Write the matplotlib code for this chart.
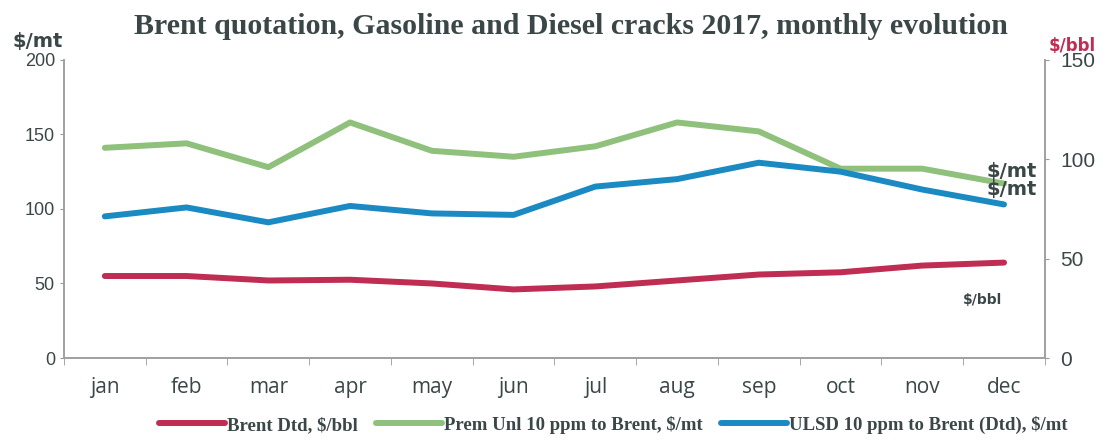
import numpy as np
import matplotlib.pyplot as plt

# Monthly data 2017
months = ['jan', 'feb', 'mar', 'apr', 'may', 'jun', 'jul', 'aug', 'sep', 'oct', 'nov', 'dec']
brent = [55, 55, 52, 52.5, 50, 46, 48, 52, 56, 57.5, 62, 64]
prem_unl = [141, 144, 128, 158, 139, 135, 142, 158, 152, 127, 127, 117]
ulsd = [95, 101, 91, 102, 97, 96, 115, 120, 131, 125, 113, 103]

red = '#bf2d52'
green = '#8fc17c'
blue = '#1c8ac2'
txt = '#3b4747'

fig = plt.figure(figsize=(11.16, 4.45), dpi=100)
ax = fig.add_axes([0.0573, 0.1955, 0.879, 0.67])
x = np.arange(len(months))

ax.plot(x, brent, color=red, lw=4.3, solid_capstyle='round', label='Brent Dtd, $/bbl')
ax.plot(x, prem_unl, color=green, lw=4.3, solid_capstyle='round', label='Prem Unl 10 ppm to Brent, $/mt')
ax.plot(x, ulsd, color=blue, lw=4.3, solid_capstyle='round', label='ULSD 10 ppm to Brent (Dtd), $/mt')

ax.set_xlim(-0.5, 11.5)
ax.set_ylim(0, 200)
ax.set_yticks([0, 50, 100, 150, 200])
ax.set_xticks(x)
ax.set_xticklabels(months, fontsize=15, color=txt, family='Open Sans')
ax.set_xticks(np.arange(-0.5, 12, 1), minor=True)
ax.tick_params(axis='x', which='major', length=0, pad=14)
ax.tick_params(axis='x', which='minor', length=5, color='#999999')
ax.tick_params(axis='y', length=3, color='#999999', labelsize=13, labelcolor=txt)
for lab in ax.get_yticklabels():
    lab.set_family('Liberation Sans')

ax2 = ax.twinx()
ax2.set_ylim(0, 150)
ax2.set_yticks([0, 50, 100, 150])
ax2.tick_params(axis='y', length=3, color='#999999', labelsize=15, labelcolor=txt, pad=8)
for lab in ax2.get_yticklabels():
    lab.set_family('Liberation Sans')

for a in (ax, ax2):
    a.spines['top'].set_visible(False)
    for s in ('left', 'right', 'bottom'):
        a.spines[s].set_color('#a0a0a0')
        a.spines[s].set_linewidth(1.2)

# unit annotations
fig.text(0.011, 0.895, '$/mt', fontsize=14, fontweight='bold', color=txt, family='DejaVu Sans')
fig.text(0.940, 0.885, '$/bbl', fontsize=12, fontweight='bold', color=red, family='DejaVu Sans')
ax.text(10.78, 125, '$/mt', fontsize=14, fontweight='bold', color=txt, ha='left', va='center')
ax.text(10.78, 113, '$/mt', fontsize=14, fontweight='bold', color=txt, ha='left', va='center')
ax.text(10.5, 39, '$/bbl', fontsize=10, fontweight='bold', color=txt, ha='left', va='center')

fig.text(0.512, 0.94, 'Brent quotation, Gasoline and Diesel cracks 2017, monthly evolution',
         ha='center', va='center', fontsize=21.5, fontweight='bold', color=txt, family='Liberation Serif')

ax.legend(loc='upper center', bbox_to_anchor=(0.56, -0.15), ncol=3, frameon=False,
          prop={'family': 'Liberation Serif', 'weight': 'bold', 'size': 13.5},
          handlelength=3.5, handletextpad=0.1, columnspacing=1.0, labelcolor=txt,
          borderpad=0.2)

fig.savefig('out.png', dpi=100)
